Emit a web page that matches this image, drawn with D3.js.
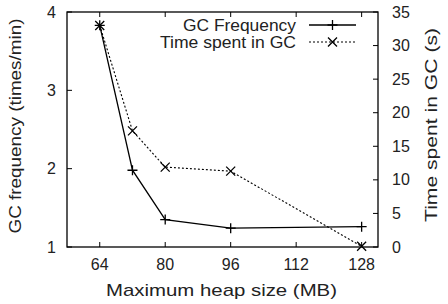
<!DOCTYPE html>
<html>
<head>
<meta charset="utf-8">
<script src="https://cdn.jsdelivr.net/npm/d3@7"></script>
<style>
  body { margin: 0; background: #fff; }
  text { font-family: "Liberation Sans", Arial, sans-serif; fill: #222; }
</style>
</head>
<body>
<svg id="chart" width="448" height="304"></svg>
<script>
var heapSizes = [64, 72, 80, 96, 128];
var gcFrequency = [3.83, 1.98, 1.35, 1.24, 1.26];
var gcTime = [33, 17.3, 11.9, 11.3, 0.1];
var xTicks = [64, 80, 96, 112, 128];
var leftTicks = [1, 2, 3, 4];
var rightTicks = [0, 5, 10, 15, 20, 25, 30, 35];

(function () {
    var mLeft = 67, mRight = 378, mTop = 12, mBottom = 247;
    var svg = d3.select("#chart");

    var x = d3.scaleLinear().domain([56, 132]).range([mLeft, mRight]);
    var yL = d3.scaleLinear().domain([1, 4]).range([mBottom, mTop]);
    var yR = d3.scaleLinear().domain([0, 35]).range([mBottom, mTop]);

    // frame
    svg.append("rect")
        .attr("x", mLeft).attr("y", mTop)
        .attr("width", mRight - mLeft).attr("height", mBottom - mTop)
        .attr("fill", "none").attr("stroke", "#000").attr("stroke-width", 1.3);

    var tickLen = 5;
    xTicks.forEach(function (t) {
        svg.append("line").attr("x1", x(t)).attr("x2", x(t))
            .attr("y1", mBottom).attr("y2", mBottom - tickLen).attr("stroke", "#000");
        svg.append("line").attr("x1", x(t)).attr("x2", x(t))
            .attr("y1", mTop).attr("y2", mTop + tickLen).attr("stroke", "#000");
        svg.append("text").attr("x", x(t)).attr("y", 270)
            .attr("text-anchor", "middle").attr("font-size", 16).text(t);
    });
    leftTicks.forEach(function (t) {
        svg.append("line").attr("x1", mLeft).attr("x2", mLeft + tickLen)
            .attr("y1", yL(t)).attr("y2", yL(t)).attr("stroke", "#000");
        svg.append("text").attr("x", 56).attr("y", yL(t)).attr("dy", "0.35em")
            .attr("text-anchor", "end").attr("font-size", 16).text(t);
    });
    rightTicks.forEach(function (t) {
        svg.append("line").attr("x1", mRight).attr("x2", mRight - tickLen)
            .attr("y1", yR(t)).attr("y2", yR(t)).attr("stroke", "#000");
        svg.append("text").attr("x", 392).attr("y", yR(t)).attr("dy", "0.35em")
            .attr("text-anchor", "start").attr("font-size", 16).text(t);
    });

    // axis titles
    svg.append("text").attr("x", 221.5).attr("y", 296)
        .attr("text-anchor", "middle").attr("font-size", 17)
        .attr("textLength", 231).attr("lengthAdjust", "spacingAndGlyphs")
        .text("Maximum heap size (MB)");
    svg.append("text").attr("transform", "translate(21,126) rotate(-90)")
        .attr("text-anchor", "middle").attr("font-size", 17)
        .attr("textLength", 215).attr("lengthAdjust", "spacingAndGlyphs")
        .text("GC frequency (times/min)");
    svg.append("text").attr("transform", "translate(437,125) rotate(-90)")
        .attr("text-anchor", "middle").attr("font-size", 17)
        .attr("textLength", 194).attr("lengthAdjust", "spacingAndGlyphs")
        .text("Time spent in GC (s)");

    // series
    var freqData = heapSizes.map(function (h, i) { return [h, gcFrequency[i]]; });
    var timeData = heapSizes.map(function (h, i) { return [h, gcTime[i]]; });

    svg.append("path").datum(freqData)
        .attr("d", d3.line().x(function (d) { return x(d[0]); }).y(function (d) { return yL(d[1]); }))
        .attr("fill", "none").attr("stroke", "#000").attr("stroke-width", 1.3);
    svg.append("path").datum(timeData)
        .attr("d", d3.line().x(function (d) { return x(d[0]); }).y(function (d) { return yR(d[1]); }))
        .attr("fill", "none").attr("stroke", "#000").attr("stroke-width", 1.1)
        .attr("stroke-dasharray", "2,2");

    function plus(cx, cy) {
        svg.append("path").attr("d", "M" + (cx - 5) + "," + cy + "H" + (cx + 5) + "M" + cx + "," + (cy - 5) + "V" + (cy + 5))
            .attr("stroke", "#000").attr("stroke-width", 1.3);
    }
    function cross(cx, cy) {
        svg.append("path").attr("d", "M" + (cx - 4.5) + "," + (cy - 4.5) + "L" + (cx + 4.5) + "," + (cy + 4.5) +
            "M" + (cx - 4.5) + "," + (cy + 4.5) + "L" + (cx + 4.5) + "," + (cy - 4.5))
            .attr("stroke", "#000").attr("stroke-width", 1.3);
    }
    freqData.forEach(function (d) { plus(x(d[0]), yL(d[1])); });
    timeData.forEach(function (d) { cross(x(d[0]), yR(d[1])); });

    // legend
    var legendRows = [
        { label: "GC Frequency", len: 113, dash: null, mark: plus, y: 25 },
        { label: "Time spent in GC", len: 136, dash: "2,2", mark: cross, y: 42 }
    ];
    legendRows.forEach(function (r) {
        svg.append("text").attr("x", 296).attr("y", r.y).attr("dy", "0.35em")
            .attr("text-anchor", "end").attr("font-size", 16)
            .attr("textLength", r.len).attr("lengthAdjust", "spacingAndGlyphs")
            .text(r.label);
        svg.append("line").attr("x1", 309).attr("x2", 356).attr("y1", r.y).attr("y2", r.y)
            .attr("stroke", "#000").attr("stroke-width", r.dash ? 1.1 : 1.3)
            .attr("stroke-dasharray", r.dash);
        r.mark(332.5, r.y);
    });
})();
</script>
</body>
</html>
